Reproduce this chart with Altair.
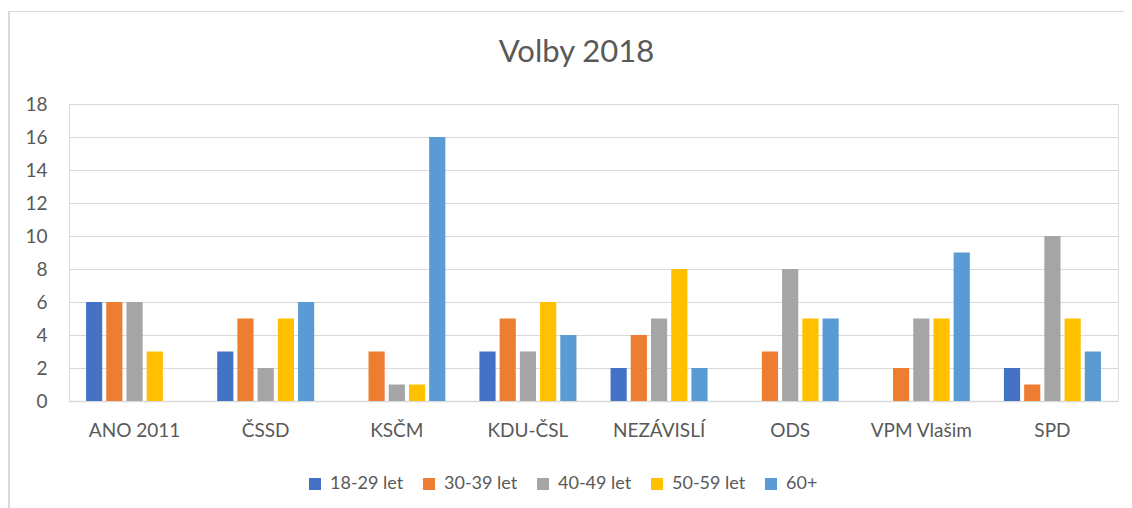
import altair as alt
import pandas as pd

categories = ["ANO 2011", "ČSSD", "KSČM", "KDU-ČSL", "NEZÁVISLÍ", "ODS", "VPM Vlašim", "SPD"]
series = ["18-29 let", "30-39 let", "40-49 let", "50-59 let", "60+"]
v_18_29 = [6, 3, 0, 3, 2, 0, 0, 2]
v_30_39 = [6, 5, 3, 5, 4, 3, 2, 1]
v_40_49 = [6, 2, 1, 3, 5, 8, 5, 10]
v_50_59 = [3, 5, 1, 6, 8, 5, 5, 5]
v_60 = [0, 6, 16, 4, 2, 5, 9, 3]
colors = ["#4472C4", "#ED7D31", "#A5A5A5", "#FFC000", "#5B9BD5"]
title_text = "Volby 2018"

rows = []
for s, vals in zip(series, [v_18_29, v_30_39, v_40_49, v_50_59, v_60]):
    for c, v in zip(categories, vals):
        rows.append({"party": c, "age": s, "value": v})
df = pd.DataFrame(rows)

FONT = "Lato"
TXT = "#595959"
GRID = "#D9D9D9"

bars = alt.Chart(df).mark_bar().encode(
    x=alt.X("party:N", sort=categories,
            scale=alt.Scale(paddingInner=0.26, paddingOuter=0.13),
            axis=alt.Axis(title=None, labelAngle=0, domainColor=GRID, domainWidth=1.5,
                          ticks=False, labelPadding=20, labelFontSize=19,
                          labelColor=TXT, labelFont=FONT, grid=False)),
    xOffset=alt.XOffset("age:N", sort=series,
                        scale=alt.Scale(paddingInner=0.2, paddingOuter=0)),
    y=alt.Y("value:Q", scale=alt.Scale(domain=[0, 18]),
            axis=alt.Axis(values=list(range(0, 19, 2)), title=None, domain=False,
                          ticks=False, gridColor=GRID, gridWidth=1.2, labelPadding=22,
                          labelFontSize=19, labelColor=TXT, labelFont=FONT)),
    color=alt.Color("age:N", sort=series,
                    scale=alt.Scale(domain=series, range=colors),
                    legend=alt.Legend(title=None, orient="none", direction="horizontal",
                                      legendX=237, legendY=371, symbolType="square",
                                      symbolSize=144, symbolStrokeWidth=0,
                                      labelFontSize=18, labelColor=TXT, labelFont=FONT,
                                      columnPadding=16, labelOffset=6)),
)

frame = pd.DataFrame({"t": [title_text]})
left_border = alt.Chart(frame).mark_rule(color=GRID, strokeWidth=2).encode(
    x=alt.value(-60), y=alt.value(-93), y2=alt.value(420))
top_border = alt.Chart(frame).mark_rule(color=GRID, strokeWidth=1).encode(
    x=alt.value(-61), x2=alt.value(1100), y=alt.value(-92.5))
title = alt.Chart(frame).mark_text(fontSize=31, color=TXT, font=FONT,
                                   align="center", baseline="alphabetic").encode(
    text="t:N", x=alt.value(507.5), y=alt.value(-42.5))

chart = alt.layer(left_border, top_border, title, bars).properties(
    width=1049,
    height=297,
    padding={"left": 61, "top": 96, "right": 6, "bottom": 107},
    autosize=alt.AutoSizeParams(type="none"),
).configure_view(stroke=None).configure(font=FONT, background="white")

chart.save("out.html", embed_options={"renderer": "svg", "actions": False})
